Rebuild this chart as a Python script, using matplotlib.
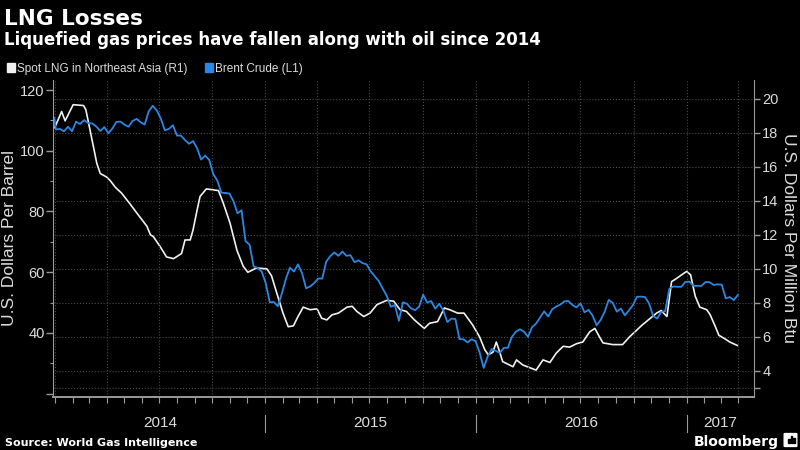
import numpy as np
import pandas as pd
import matplotlib
matplotlib.use('Agg')
import matplotlib.pyplot as plt
import matplotlib.dates as mdates
import matplotlib.transforms as mtransforms
from matplotlib.patches import Rectangle, FancyBboxPatch

plt.rcParams['font.family'] = ['Liberation Sans', 'DejaVu Sans']

# Brent crude, weekly (Fridays), USD per barrel  -> left axis (L1)
brent_start = 110.8  # 2013-12-31
brent_2014 = [107.0, 107.2, 106.4, 107.9, 106.4,
              109.6, 108.8, 110.1, 109.1,
              109.0, 108.0, 106.5, 107.8,
              105.8, 107.3, 109.5, 109.6,
              108.6, 107.9, 109.8, 110.5, 109.4,
              108.6, 113.0, 114.8, 113.3,
              110.6, 106.7, 107.2, 108.4,
              105.0, 105.0, 103.5, 102.3, 103.2,
              100.8, 97.1, 98.4, 97.0,
              92.3, 90.2, 86.2, 86.1, 85.9,
              83.4, 79.4, 80.4, 70.2,
              69.1, 61.9, 61.4, 60.2]
brent_2015 = [56.4, 50.1, 50.2, 48.8, 53.0,
              57.8, 61.5, 60.2, 62.6,
              59.7, 54.7, 55.3, 56.4,
              57.9, 57.9, 63.5, 65.3,
              66.5, 65.4, 66.8, 65.4, 65.6,
              63.3, 63.9, 63.0, 62.6,
              60.3, 58.7, 57.1, 54.6, 52.2,
              48.6, 49.2, 44.0, 50.1,
              49.6, 48.1, 47.5, 48.6,
              52.6, 50.0, 50.5, 48.0, 49.6,
              47.4, 43.6, 44.7, 44.6,
              38.0, 37.9, 36.9, 37.9]
brent_2016 = [37.3, 33.6, 28.5, 32.2, 34.7,
              34.1, 33.4, 35.1, 35.1,
              38.7, 40.4, 41.2, 40.4,
              38.7, 41.9, 43.1, 45.1, 47.1,
              45.4, 47.8, 48.7, 49.3,
              50.4, 50.5, 49.2, 48.4,
              49.7, 46.8, 47.6, 45.7, 42.5,
              44.3, 47.0, 50.9, 49.9,
              47.0, 48.0, 45.8, 47.4, 49.2,
              51.9, 51.95, 51.8, 49.7,
              45.6, 44.75, 46.9, 47.2,
              54.5, 55.3, 55.2, 55.2, 56.8]
brent_2017 = [56.9, 55.5, 55.5, 55.5,
              56.8, 56.7, 55.8, 56.0,
              55.9, 51.4, 51.8, 50.8, 52.5]

brent_dates = pd.DatetimeIndex(['2013-12-31']).append(
    pd.date_range('2014-01-03', '2017-03-31', freq='W-FRI'))
brent = [brent_start] + brent_2014 + brent_2015 + brent_2016 + brent_2017

# Spot LNG Northeast Asia, USD per million Btu -> right axis (R1)
lng_dates = pd.to_datetime([
    '2014-01-01', '2014-01-13', '2014-01-19', '2014-02-02', '2014-02-20', '2014-02-24',
    '2014-03-03', '2014-03-15', '2014-03-21', '2014-04-01', '2014-04-07', '2014-04-16',
    '2014-04-27', '2014-05-12', '2014-05-23', '2014-06-10', '2014-06-16', '2014-06-21',
    '2014-07-03', '2014-07-14', '2014-07-26', '2014-08-09', '2014-08-15', '2014-08-24',
    '2014-08-29', '2014-09-04', '2014-09-10', '2014-09-21', '2014-10-12', '2014-10-20',
    '2014-11-01', '2014-11-13', '2014-11-24', '2014-12-02', '2014-12-17',
    '2015-01-04', '2015-01-12', '2015-01-21', '2015-02-01', '2015-02-10', '2015-02-19',
    '2015-02-27', '2015-03-08', '2015-03-20', '2015-04-01', '2015-04-09', '2015-04-18',
    '2015-04-27', '2015-05-08', '2015-05-23', '2015-06-01', '2015-06-09', '2015-06-21',
    '2015-07-02', '2015-07-14', '2015-07-31', '2015-08-12', '2015-08-23', '2015-09-03',
    '2015-09-17', '2015-10-04', '2015-10-13', '2015-10-27', '2015-11-08', '2015-11-17',
    '2015-12-01', '2015-12-12', '2015-12-27',
    '2016-01-08', '2016-01-17', '2016-01-23', '2016-01-31', '2016-02-06', '2016-02-12',
    '2016-02-17', '2016-03-06', '2016-03-12', '2016-03-23', '2016-04-15', '2016-04-27',
    '2016-05-09', '2016-05-20', '2016-06-01', '2016-06-12', '2016-06-24', '2016-07-05',
    '2016-07-17', '2016-07-26', '2016-08-03', '2016-08-09', '2016-08-26', '2016-09-12',
    '2016-09-24', '2016-10-16', '2016-11-10', '2016-11-18', '2016-11-28', '2016-12-06',
    '2016-12-13', '2017-01-01', '2017-01-08', '2017-01-16', '2017-01-24', '2017-02-05',
    '2017-02-11', '2017-02-20', '2017-02-26', '2017-03-08', '2017-03-17', '2017-03-30'])
lng = [18.3, 19.25, 18.7, 19.65, 19.6, 19.35,
       18.2, 16.2, 15.6, 15.4, 15.2, 14.8,
       14.45, 13.8, 13.3, 12.5, 12.0, 11.9,
       11.3, 10.7, 10.6, 10.9, 11.7, 11.7,
       12.3, 13.3, 14.25, 14.7, 14.6, 13.9,
       12.7, 11.1, 10.15, 9.8, 10.05,
       10.0, 9.6, 8.6, 7.4, 6.6, 6.65,
       7.2, 7.75, 7.6, 7.65, 7.1, 7.0,
       7.3, 7.4, 7.75, 7.8, 7.5, 7.2,
       7.4, 7.9, 8.15, 8.1, 7.6, 7.5,
       7.0, 6.5, 6.8, 6.9, 7.7, 7.6,
       7.4, 7.4, 6.7,
       6.0, 5.25, 4.95, 5.1, 5.7, 5.1,
       4.55, 4.25, 4.65, 4.35, 4.05, 4.65,
       4.5, 5.05, 5.45, 5.4, 5.6, 5.7,
       6.3, 6.5, 6.0, 5.65, 5.55, 5.55,
       6.0, 6.7, 7.4, 7.55, 7.2, 9.25,
       9.4, 9.85, 9.65, 8.4, 7.75, 7.6,
       7.3, 6.6, 6.1, 5.9, 5.7, 5.5]

years = ['2014', '2015', '2016', '2017']
left_ticks = [20, 40, 60, 80, 100, 120]
left_minor = [30, 50, 70, 90, 110]
right_ticks = [3, 4, 6, 8, 10, 12, 14, 16, 18, 20]

BG = 'black'
BLUE = '#2b87e3'
WHITE = '#f0f0f0'
GRID = '#4a4a4a'
AXIS = '#9a9a9a'
TXT = '#dcdcdc'

x0, x1 = pd.Timestamp('2013-12-29'), pd.Timestamp('2017-04-28')

fig = plt.figure(figsize=(8, 4.5), dpi=100, facecolor=BG)
ax = fig.add_axes([0.06625, 0.1178, 0.87625, 0.7044])
ax2 = ax.twinx()
ax.set_zorder(2)
ax2.set_zorder(1)
ax.patch.set_visible(False)
ax2.patch.set_visible(False)

ax2.plot(lng_dates, lng, color=WHITE, lw=1.2)
ax.plot(brent_dates, brent, color=BLUE, lw=1.3)

ax.set_xlim(x0, x1)
ax.set_ylim(18.9, 123.3)
ax2.set_ylim(2.47, 21.1)

for s in ['top', 'right']:
    ax.spines[s].set_visible(False)
for s in ['top', 'left', 'bottom']:
    ax2.spines[s].set_visible(False)
for s in ['left', 'bottom']:
    ax.spines[s].set_color(AXIS)
ax.spines['bottom'].set_linewidth(1.4)
ax2.spines['right'].set_color(AXIS)

# x axis: month ticks, quarter grid
ax.xaxis.set_major_locator(mdates.MonthLocator(bymonth=[1, 4, 7, 10]))
ax.xaxis.set_minor_locator(mdates.MonthLocator())
ax.tick_params(axis='x', which='both', colors=AXIS, length=4, width=0.8,
               labelbottom=False)
ax.grid(axis='x', which='major', color=GRID, linestyle=':', linewidth=0.8)

# left axis
ax.set_yticks(left_ticks)
ax.set_yticklabels([''] + [str(v) for v in left_ticks[1:]])
ax.set_yticks(left_minor, minor=True)
ax.tick_params(axis='y', which='major', colors=AXIS, labelcolor=TXT,
               length=5, width=1, labelsize=10.5, pad=1)
ax.tick_params(axis='y', which='minor', colors=AXIS, length=2, width=0.8)

# right axis
ax2.set_yticks(right_ticks)
ax2.set_yticklabels([''] + [str(v) for v in right_ticks[1:]])
ax2.tick_params(axis='y', colors=AXIS, labelcolor=TXT, length=4, width=1,
                labelsize=10.5, pad=2)
ax2.grid(axis='y', color=GRID, linestyle=':', linewidth=0.8)

# year bands under the axis
trans = mtransforms.blended_transform_factory(ax.transData, ax.transAxes)
for i, y in enumerate(years):
    start = max(pd.Timestamp(y + '-01-01'), x0)
    end = min(pd.Timestamp(str(int(y) + 1) + '-01-01'), x1)
    if i > 0:
        ax.plot([start, start], [-0.057, -0.11], transform=trans, color=AXIS,
                lw=0.8, clip_on=False)
    mid = start + (end - start) / 2
    ax.text(mid, -0.082, y, transform=trans, ha='center', va='center',
            color=TXT, fontsize=11)

# axis titles
fig.text(10 / 800, 0.471, 'U.S. Dollars Per Barrel', rotation=90, ha='center',
         va='center', color=TXT, fontsize=12.5)
fig.text(789 / 800, 0.471, 'U.S. Dollars Per Million Btu', rotation=270,
         ha='center', va='center', color=TXT, fontsize=12.5)

# titles
fig.text(4 / 800, 1 - 25 / 450, 'LNG Losses', color='white', fontsize=15.5,
         fontweight='bold', family='DejaVu Sans', va='baseline')
fig.text(4 / 800, 1 - 45 / 450,
         'Liquefied gas prices have fallen along with oil since 2014',
         color='white', fontsize=12, fontweight='bold', family='DejaVu Sans',
         va='baseline')

# legend
fig.add_artist(Rectangle((7 / 800, 1 - 72 / 450), 8 / 800, 9 / 450,
                         transform=fig.transFigure, color=WHITE))
fig.text(17 / 800, 1 - 72 / 450, 'Spot LNG in Northeast Asia (R1)', color=TXT,
         fontsize=8.5, va='baseline')
fig.add_artist(Rectangle((205 / 800, 1 - 72 / 450), 8 / 800, 9 / 450,
                         transform=fig.transFigure, color=BLUE))
fig.text(215 / 800, 1 - 72 / 450, 'Brent Crude (L1)', color=TXT, fontsize=8.5,
         va='baseline')

# footer
fig.text(5 / 800, 1 - 446 / 450, 'Source: World Gas Intelligence', color='white',
         fontsize=8, fontweight='bold', family='DejaVu Sans', va='baseline')
fig.text(779 / 800, 1 - 446 / 450, 'Bloomberg', color='white', fontsize=10,
         fontweight='bold', family='DejaVu Sans', ha='right', va='baseline')
fig.add_artist(FancyBboxPatch((785 / 800, 1 - 446 / 450), 11 / 800, 12 / 450,
                              boxstyle='round,pad=0.001', transform=fig.transFigure,
                              color='white'))
for bx, bh in [(788, 4), (790.5, 7), (793, 5)]:
    fig.add_artist(Rectangle((bx / 800, 1 - 443 / 450), 1.5 / 800, bh / 450,
                             transform=fig.transFigure, color='black'))

fig.savefig('out.png', dpi=100, facecolor=BG)
